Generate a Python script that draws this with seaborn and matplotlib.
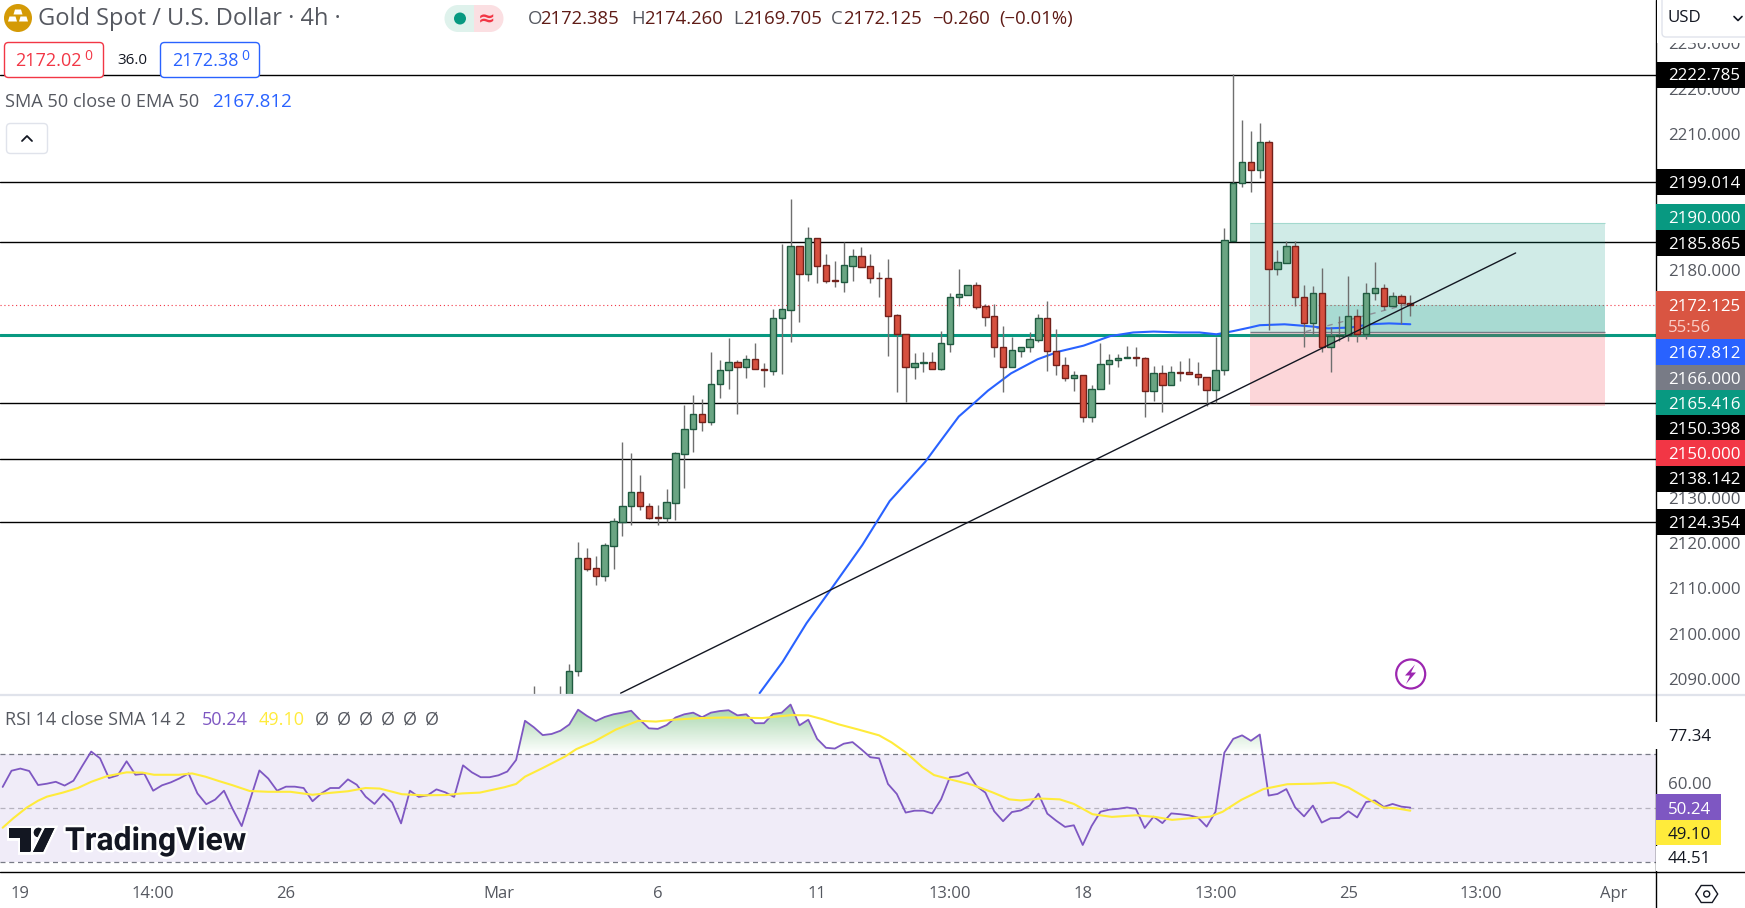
import numpy as np
import matplotlib
matplotlib.use("Agg")
import matplotlib.pyplot as plt
import matplotlib.patheffects as pe
from matplotlib.patches import Circle, FancyBboxPatch, Polygon, Rectangle
from matplotlib.path import Path
from matplotlib.transforms import ScaledTranslation
import pandas as pd
import seaborn as sns

# 4h candles, bar numbers 60..159 (older ones sit below the visible price range)
open_prices = [
    2084, 2082, 2080, 2083, 2082, 2091.4, 2116.3, 2114.1, 2112.5, 2119.1,
    2124.3, 2127.7, 2130.8, 2127.9, 2125.3, 2125.2, 2128.5, 2139.3, 2144.7, 2148,
    2146.2, 2154.6, 2157.7, 2159.4, 2158.3, 2160.1, 2158, 2157.6, 2169.1, 2171,
    2185, 2178.9, 2186.7, 2180.8, 2177.5, 2177.2, 2180.7, 2182.8, 2180.6, 2178.1,
    2177.9, 2169.8, 2165.7, 2158.3, 2159.3, 2159.4, 2158, 2163.5, 2173.7, 2174.3,
    2176.4, 2171.8, 2169.6, 2162.7, 2158.5, 2162, 2162.7, 2164.4, 2169.1, 2161.9,
    2158.8, 2155.9, 2156.6, 2147.3, 2153.5, 2159, 2159.9, 2160.4, 2160.5, 2160.3,
    2153.1, 2157, 2154.4, 2157.3, 2157.2, 2156.8, 2156.1, 2153.3, 2157.7, 2186.2,
    2199, 2203.5, 2201.7, 2207.9, 2179.9, 2181.4, 2185, 2173.7, 2168, 2174.6,
    2162.7, 2165.2, 2165.5, 2169.6, 2165.7, 2174.6, 2175.7, 2171.8, 2174, 2172.385,
]
close_prices = [
    2082, 2080, 2083, 2082, 2091.4, 2116.3, 2114, 2112.5, 2119.2, 2124.4,
    2127.7, 2130.8, 2127.9, 2125.2, 2125.2, 2128.6, 2139.4, 2144.7, 2148, 2146.2,
    2154.6, 2157.7, 2159.4, 2158.3, 2160.1, 2157.9, 2157.8, 2169.1, 2171.1, 2185,
    2178.9, 2186.7, 2180.7, 2177.4, 2177.3, 2180.8, 2182.8, 2180.5, 2178.1, 2177.9,
    2169.7, 2165.7, 2158.3, 2159.2, 2159.5, 2158, 2163.6, 2173.7, 2174.4, 2176.4,
    2171.7, 2169.5, 2162.7, 2158.5, 2162.1, 2162.7, 2164.5, 2169.1, 2161.9, 2158.8,
    2155.9, 2156.6, 2147.3, 2153.5, 2159, 2159.9, 2160.3, 2160.6, 2160.4, 2153.1,
    2157, 2154.4, 2157.4, 2157.1, 2156.8, 2156.1, 2153.3, 2157.7, 2186.3, 2199,
    2203.5, 2201.7, 2207.9, 2179.9, 2181.5, 2185, 2173.7, 2168, 2174.6, 2162.7,
    2165.2, 2165.5, 2169.6, 2165.7, 2174.6, 2175.7, 2171.8, 2174, 2172.4, 2172.125,
]
high_prices = [
    2088.2, 2085, 2084, 2088.2, 2093, 2119.9, 2118.5, 2116.8, 2119.6, 2125.1,
    2141.9, 2139.5, 2134.6, 2128.4, 2128, 2131.5, 2139.7, 2150, 2152.2, 2151.3,
    2161.7, 2159.9, 2164.7, 2159.9, 2161, 2163.7, 2159.3, 2171.1, 2185.5, 2195.4,
    2185, 2189.2, 2186.9, 2183.3, 2181.7, 2185.9, 2184.4, 2184.8, 2183.3, 2179.3,
    2182.2, 2170, 2165.7, 2161.5, 2161.7, 2161.7, 2166.3, 2174.7, 2180, 2176.4,
    2177.1, 2172.2, 2172.2, 2167.4, 2165.1, 2162.7, 2166, 2170, 2173, 2166.8,
    2160.6, 2157.5, 2156.6, 2154.4, 2163.7, 2161.2, 2161.2, 2163, 2162.8, 2160.6,
    2158.6, 2158.8, 2158.6, 2159.7, 2160.4, 2159.5, 2156.1, 2165.1, 2188.9, 2222.8,
    2212.8, 2210.4, 2212.1, 2208.4, 2184.2, 2186.1, 2186.1, 2176.5, 2176.2, 2180.2,
    2167.3, 2169.6, 2178.4, 2171.2, 2177, 2181.5, 2176.6, 2174.9, 2174.4, 2174.26,
]
low_prices = [
    2079, 2078, 2077, 2080, 2081, 2090.4, 2113.4, 2110.4, 2111.3, 2114,
    2121.2, 2123.6, 2126.9, 2124.9, 2123.6, 2124.2, 2124.7, 2131.8, 2139.6, 2144.4,
    2145.7, 2151.6, 2153.5, 2148.1, 2156, 2157.9, 2154.1, 2156.7, 2156.9, 2163.9,
    2168.4, 2177.4, 2177, 2177, 2176.1, 2175, 2177.3, 2180.5, 2177, 2173.9,
    2160.9, 2152.8, 2150.7, 2155.8, 2157.4, 2158, 2157.7, 2161.6, 2171.9, 2174.3,
    2171.2, 2167.5, 2160.7, 2153, 2158.3, 2160.7, 2161.8, 2163.8, 2157.6, 2156.6,
    2155.4, 2153.1, 2146.2, 2146.2, 2153.5, 2154.7, 2158.3, 2160.4, 2158.7, 2147.3,
    2150.9, 2148.6, 2154.4, 2155.4, 2156.8, 2154.5, 2149.8, 2150.5, 2156.7, 2186.2,
    2198.1, 2197, 2200, 2166.6, 2178.7, 2181.2, 2171.9, 2162.7, 2165.7, 2161.8,
    2157.2, 2164.1, 2164.1, 2163.8, 2164.5, 2173.2, 2171, 2171.8, 2167.8, 2169.705,
]

# EMA 50
ema_bars = [85.5, 88.1, 90.8, 93.5, 97.1, 100.2, 104.2, 105.9, 108, 109.7, 111.3, 113.9,
            116.9, 119.3, 122.1, 125.1, 127.7, 130, 133, 135.2, 137.1, 139, 140.9, 142,
            144.8, 148, 149.7, 152.3, 154.4, 156.6, 159]
ema_values = [2086.6, 2093.5, 2102, 2109.3, 2119.2, 2128.9, 2137.5, 2142, 2147.5, 2150.4,
              2153.2, 2157, 2160.1, 2161.8, 2163.1, 2165.2, 2166, 2166.2, 2166, 2166,
              2165.6, 2166.3, 2167.1, 2167.6, 2167.8, 2167.3, 2166.9, 2167.1, 2167.8,
              2168, 2167.812]

# RSI 14, one value per bar 0..159
rsi_values = [
    57.9, 63.9, 64.7, 63.8, 58.6, 59.1, 59.8, 58.4, 60.2, 65.7,
    71.0, 68.5, 61.2, 62.2, 67.4, 62.4, 62.8, 56.5, 58.5, 59.6,
    61.1, 62.9, 55.5, 51.5, 53.2, 56.5, 49.6, 43.4, 53.7, 64.0,
    61.0, 56.5, 58.0, 58.0, 57.5, 52.6, 55.5, 57.5, 57.5, 60.7,
    58.7, 54.3, 51.6, 55.4, 52.1, 44.4, 56.5, 54.2, 54.8, 57.0,
    55.9, 54.2, 65.9, 63.3, 61.5, 61.5, 62.2, 63.6, 67.9, 82.4,
    80.0, 77.1, 77.5, 78.7, 81.0, 86.5, 84.2, 82.3, 83.8, 84.8,
    85.4, 86.1, 82.7, 79.6, 79.4, 80.8, 83.6, 84.8, 85.4, 83.7,
    85.4, 86.0, 86.3, 84.4, 84.8, 81.5, 81.5, 84.9, 85.4, 88.4,
    80.7, 82.8, 75.7, 72.4, 72.1, 73.9, 74.5, 71.8, 68.9, 68.5,
    59.0, 55.3, 48.4, 49.1, 49.1, 48.1, 53.3, 61.5, 61.9, 63.3,
    58.2, 55.8, 48.9, 45.2, 48.6, 49.2, 51.0, 55.4, 48.0, 45.4,
    43.1, 43.7, 36.4, 43.4, 48.7, 49.5, 49.8, 50.3, 49.8, 42.7,
    46.9, 44.5, 48.1, 47.8, 47.4, 46.6, 43.2, 48.7, 70.6, 75.7,
    77.0, 75.0, 77.3, 54.7, 55.3, 57.1, 50.3, 47.0, 51.0, 44.7,
    46.3, 46.4, 48.9, 46.6, 52.3, 52.9, 50.5, 51.6, 50.6, 50.24,
]

# RSI-based SMA, read at the bends of the yellow line
rsi_ma_bars = [0, 1.2, 2.7, 4, 5, 6.8, 8.5, 10, 11.8, 14, 15.8, 17.1, 19.9, 21.4, 22.9, 24.4,
               25.9, 27.9, 30, 32.5, 35, 37, 39, 41, 42.6, 45.1, 47.6, 50.1, 51.9, 53.9,
               56.7, 58, 59, 61, 63.5, 64.8, 66.8, 69.3, 71.8, 73.8, 75.8, 78.8, 81.5,
               85.8, 89.1, 91, 92.6, 94.4, 96.6, 99, 100.4, 102, 103.9, 105.2, 106.9,
               109.6, 111.8, 113.7, 115, 117.2, 119.4, 121, 123.1, 125.3, 128, 130.2,
               132.1, 134.5, 136.4, 137.8, 139.9, 142.4, 145.1, 148, 150.4, 152, 153.7,
               155.9, 157.4, 159]
rsi_ma_values = [42.8, 46.3, 50.2, 52.8, 54.3, 55.8, 57.5, 59.8, 61.9, 63.3, 63.2, 62.4, 62.4,
                 62.9, 61.7, 60.1, 58.6, 56.4, 56.1, 56.1, 55.0, 55.7, 56.3, 57.5, 57.3,
                 55.2, 54.8, 54.9, 55.5, 55.8, 57.8, 59.0, 61.7, 64.9, 69.1, 71.9, 74.7,
                 79.2, 82.4, 82.1, 82.8, 83.4, 83.6, 83.4, 84.5, 84.4, 83.0, 81.1, 79.2,
                 77.0, 74.4, 70.7, 65.2, 62.3, 60.8, 58.6, 55.9, 53.3, 52.9, 53.6, 53.3,
                 51.6, 47.8, 46.8, 47.4, 46.8, 45.7, 46.4, 46.9, 48.7, 53.1, 57.1, 58.9,
                 59.1, 59.5, 57.7, 54.5, 50.3, 50.0, 49.1]

# drawn levels and tools
level_prices = [2222.785, 2199.014, 2185.865, 2150.398, 2138.142, 2124.354]
teal_level = 2165.416
last_close = 2172.125
trend_bars = [69.8, 170.9]
trend_prices = [2086.6, 2183.5]
position_bars = [140.9, 181.0]
position_open_bar = 149.3
position_target = 2190.0
position_entry = 2166.0
position_stop = 2149.9
open_pnl_bars = [147.2, 159]
open_pnl_prices = [2166.2, 2172.4]

# axis labels (the round prices behind the coloured price tags are left out)
price_ticks = [2090, 2100, 2110, 2120, 2130, 2180, 2210, 2220, 2230]
time_tick_bars = [2, 17, 32, 56, 74, 92, 107, 122, 137, 152, 167, 182]
time_tick_labels = ["19", "14:00", "26", "Mar", "6", "11", "13:00", "18", "13:00", "25", "13:00", "Apr"]

W, H = 1745, 908
PANE_R = 1656
PX_PER_BAR = 8.853
PX_PER_USD = 4.543
TEXT_GREY = "#555860"
FONT = ["Open Sans", "DejaVu Sans"]

sns.set_theme(style="white")
plt.rcParams["font.family"] = FONT
plt.rcParams["axes.unicode_minus"] = False

fig = plt.figure(figsize=(W / 100, H / 100), dpi=100, facecolor="white")
xlim = (-0.3, PANE_R / PX_PER_BAR - 0.3)
nudge_down = ScaledTranslation(0, -1.5 / 100, fig.dpi_scale_trans)

# price pane
ax = fig.add_axes([0, (H - 695) / H, PANE_R / W, 695 / H])
ax.set_xlim(*xlim)
ax.set_ylim(2222.785 - (695 - 74.5) / PX_PER_USD, 2222.785 + 74.5 / PX_PER_USD)

for level in level_prices:
    ax.axhline(level, color="black", lw=1.0, zorder=1)
ax.axhline(teal_level, color="#089981", lw=2.2, zorder=1)
ax.axhline(last_close, color="#f23645", lw=0.8, ls=(0, (1, 2.5)), zorder=2)

ax.fill_between(position_bars, position_entry, position_target, color="#089981", alpha=0.19, lw=0, zorder=2)
ax.fill_between(position_bars, position_stop, position_entry, color="#f23645", alpha=0.2, lw=0, zorder=2)
ax.fill_between([position_open_bar, position_bars[1]], position_entry, last_close,
                color="#089981", alpha=0.2, lw=0, zorder=2)
ax.hlines(teal_level, *position_bars, color="#36856f", lw=2.2, zorder=3)
ax.hlines(position_entry, *position_bars, color="#787b86", lw=1.0, zorder=3)
ax.hlines(position_target, *position_bars, color="#a3d9ce", lw=0.8, zorder=3)
ax.plot(open_pnl_bars, open_pnl_prices, color="#8d8f97", lw=1.0, ls=(0, (4, 4)), zorder=3)

sns.lineplot(x=ema_bars, y=ema_values, ax=ax, color="#2962ff", lw=1.5, estimator=None,
             sort=False, legend=False, zorder=3.5)

candles = pd.DataFrame({"bar": np.arange(60, 160), "open": open_prices, "high": high_prices,
                        "low": low_prices, "close": close_prices})
candles["up"] = candles["close"] >= candles["open"]
ax.vlines(candles["bar"], candles["low"], candles["high"], color="#6f6f6f", lw=1.0, zorder=4)
body_bottom = candles[["open", "close"]].min(axis=1)
body_height = (candles["open"] - candles["close"]).abs()
ax.bar(candles["bar"], body_height, bottom=body_bottom, width=0.72,
       color=np.where(candles["up"], "#6aa583", "#d6503f"),
       edgecolor=np.where(candles["up"], "#1f5a40", "#74201a"), linewidth=1.0, zorder=5)

sns.lineplot(x=trend_bars, y=trend_prices, ax=ax, color="#131722", lw=1.0, estimator=None,
             sort=False, legend=False, zorder=6)

ax.set_xticks([])
ax.yaxis.tick_right()
ax.set_yticks(price_ticks)
ax.set_yticklabels([f"{t}.000" for t in price_ticks], fontsize=12.2, color=TEXT_GREY)
ax.tick_params(axis="y", length=0, pad=8.5)
for lab in ax.get_yticklabels():
    lab.set_transform(lab.get_transform() + nudge_down)
ax.set_xlabel("")
ax.set_ylabel("")
for s in ax.spines.values():
    s.set_visible(False)

# RSI pane
rax = fig.add_axes([0, (H - 872) / H, PANE_R / W, 175 / H])
rax.set_xlim(*xlim)
rax.set_ylim(26.4, 91.2)
rsi_bars = np.arange(len(rsi_values))
rsi_arr = np.array(rsi_values)
rax.axhspan(30, 70, color="#f0ecf8", lw=0, zorder=1)
rax.axhline(70, color="#787b86", lw=0.9, ls=(0, (4, 3)), zorder=2)
rax.axhline(30, color="#787b86", lw=0.9, ls=(0, (4, 3)), zorder=2)
rax.axhline(50, color="#b6b3bf", lw=0.9, ls=(0, (4, 3)), zorder=2)

# overbought area fades out towards the 70 line
above = rax.fill_between(rsi_bars, rsi_arr, 70, where=rsi_arr >= 70, interpolate=True,
                         facecolor="none", lw=0)
fade = np.zeros((64, 1, 4))
fade[..., :3] = matplotlib.colors.to_rgb("#43a84e")
fade[:, 0, 3] = np.linspace(0.52, 0.0, 64)
im = rax.imshow(fade, extent=[xlim[0], xlim[1], 70, 89], aspect="auto", zorder=2.5)
im.set_clip_path(Path.make_compound_path(*above.get_paths()), transform=rax.transData)
rax.set_xlim(*xlim)
rax.set_ylim(26.4, 91.2)

sns.lineplot(x=rsi_bars, y=rsi_arr, ax=rax, color="#7e57c2", lw=1.3, estimator=None,
             legend=False, zorder=3)
sns.lineplot(x=rsi_ma_bars, y=rsi_ma_values, ax=rax, color="#ffeb3b", lw=1.5, estimator=None,
             legend=False, zorder=4)
rax.set_xticks([])
rax.yaxis.tick_right()
rax.set_yticks([60, 80])
rax.set_yticklabels(["60.00", "80.00"], fontsize=12.2, color=TEXT_GREY)
rax.tick_params(axis="y", length=0, pad=8.5)
for lab in rax.get_yticklabels():
    lab.set_transform(lab.get_transform() + nudge_down)
rax.set_xlabel("")
rax.set_ylabel("")
for s in rax.spines.values():
    s.set_visible(False)

# time axis strip
tax = fig.add_axes([0, 0, PANE_R / W, (H - 872) / H])
tax.set_xlim(*xlim)
tax.set_ylim(0, 1)
tax.set_yticks([])
tax.set_xticks(time_tick_bars)
tax.set_xticklabels(time_tick_labels, fontsize=12, color=TEXT_GREY)
tax.tick_params(axis="x", length=0, pad=-15.5)
for s in tax.spines.values():
    s.set_visible(False)

# overlay in pixels for the TradingView chrome
ui = fig.add_axes([0, 0, 1, 1], zorder=10)
ui.set_xlim(0, W)
ui.set_ylim(H, 0)
ui.axis("off")
ui.patch.set_alpha(0)


def txt(x, y, s, color=TEXT_GREY, size=12.2, ha="left", **kw):
    # Open Sans sits a little high when centred
    return ui.text(x, y + 2, s, color=color, fontsize=size, ha=ha, va="center", **kw)


def box(x0, y0, x1, y1, color):
    ui.add_patch(Rectangle((x0, y0), x1 - x0, y1 - y0, fc=color, ec="none", zorder=2))


def rounded(x0, y0, x1, y1, fc, ec, lw=1.0, r=4):
    ui.add_patch(FancyBboxPatch((x0 + r, y0 + r), x1 - x0 - 2 * r, y1 - y0 - 2 * r,
                                boxstyle=f"round,pad={r},rounding_size={r}",
                                fc=fc, ec=ec, lw=lw, zorder=2))


# pane frame
ui.plot([0, W], [695, 695], color="#e0e3eb", lw=1.6, zorder=1)
ui.plot([0, W], [872, 872], color="black", lw=1.0, zorder=1)
ui.plot([PANE_R, PANE_R], [0, H], color="black", lw=1.0, zorder=1)

# price scale labels
price_labels = [
    ("2222.785", 74.5, "black", "white"), ("2199.014", 182.3, "black", "white"),
    ("2190.000", 216.7, "#089981", "white"), ("2185.865", 242.7, "black", "white"),
    ("2167.812", 352.3, "#2962ff", "white"), ("2166.000", 378, "#787b86", "white"),
    ("2165.416", 403.3, "#089981", "white"), ("2150.398", 428, "black", "white"),
    ("2150.000", 453, "#f23645", "white"), ("2138.142", 478.5, "black", "white"),
    ("2124.354", 522, "black", "white"),
]
for label, y, bg, fg in price_labels:
    box(PANE_R + 0.5, y - 13, W, y + 13, bg)
    txt(1668, y, label, color=fg, zorder=3)
box(PANE_R + 0.5, 291, W, 339.3, "#d95542")
txt(1668, 305, "2172.125", color="white", zorder=3)
txt(1668, 326, "55:56", color="#f9cfc8", zorder=3)

# RSI scale labels
box(PANE_R - 0.5, 722, W, 749, "white")
txt(1668, 735, "77.34", color="#131722", zorder=3)
box(PANE_R + 0.5, 794.3, 1721, 820, "#7e57c2")
txt(1668, 807.5, "50.24", color="white", zorder=3)
box(PANE_R + 0.5, 820, 1721, 845.3, "#ffeb3b")
txt(1668, 833, "49.10", color="#131722", zorder=3)
box(PANE_R + 0.5, 846, 1721, 871, "white")
txt(1668, 857, "44.51", color="#131722", zorder=3)

# currency button
box(PANE_R + 1, 0, W, 43, "white")
rounded(1662, -6, 1752, 37, "white", "#e0e3eb")
txt(1668, 16, "USD", color="#131722", zorder=3)
ui.plot([1734, 1738, 1742], [16.5, 20.5, 16.5], color="#131722", lw=1.2, zorder=3)

# gear
gx, gy = 1706.7, 894
ui.add_patch(Polygon([(gx - 11, gy), (gx - 5.5, gy - 8.5), (gx + 5.5, gy - 8.5), (gx + 11, gy),
                      (gx + 5.5, gy + 8.5), (gx - 5.5, gy + 8.5)], fc="none", ec="#131722", lw=1.0))
ui.add_patch(Circle((gx, gy), 3, fc="none", ec="#131722", lw=1.0))

# header
ui.add_patch(Circle((18, 18), 14, fc="#d49a06", ec="none"))
for bx, by in [(18, 12), (12.5, 19), (23.5, 19)]:
    ui.add_patch(Polygon([(bx - 3, by - 2.5), (bx + 3, by - 2.5), (bx + 4.5, by + 2.5), (bx - 4.5, by + 2.5)],
                         fc="white", ec="none"))
txt(38, 17, "Gold Spot / U.S. Dollar · 4h ·", size=17)
ui.add_patch(Circle((458, 18.5), 13.5, fc="#dff2ec", ec="none"))
ui.add_patch(Circle((490, 18.5), 13.5, fc="#fbdfe2", ec="none"))
box(458, 5, 474, 32, "#dff2ec")
box(474, 5, 490, 32, "#fbdfe2")
ui.add_patch(Circle((460, 18.5), 6, fc="#089981", ec="none", zorder=3))
txt(487, 17, "≈", color="#f23645", size=15, ha="center", zorder=3, family=["DejaVu Sans"], weight="bold")

dark_red = "#5f1b16"
ohlc_parts = [(528, "O", TEXT_GREY), (540, "2172.385", dark_red), (631, "H", TEXT_GREY), (644, "2174.260", dark_red),
              (733, "L", TEXT_GREY), (743, "2169.705", dark_red), (831, "C", TEXT_GREY), (843, "2172.125", dark_red),
              (932, "−0.260", dark_red), (999, "(−0.01%)", dark_red)]
for px, s, c in ohlc_parts:
    txt(px, 17, s, color=c, size=13.3)

rounded(4.5, 42.5, 103.5, 77.5, "white", "#f23645")
txt(15.5, 59, "2172.02", color="#f23645", size=13)
txt(84, 55, "0", color="#f23645", size=10)
txt(132.5, 59, "36.0", color="#131722", size=11, ha="center")
rounded(160.5, 42.5, 259.5, 77.5, "white", "#2962ff")
txt(172, 59, "2172.38", color="#2962ff", size=13)
txt(241, 55, "0", color="#2962ff", size=10)

txt(5, 100, "SMA 50 close 0 EMA 50", size=13.1)
txt(212, 100, "2167.812", color="#2962ff", size=13.5)
rounded(6.5, 123.5, 47.5, 153.5, "white", "#e0e3eb")
ui.plot([22, 27, 32], [141, 136, 141], color="#131722", lw=1.3, zorder=3)

# RSI legend
txt(5, 718, "RSI 14 close SMA 14 2", size=13)
txt(202, 718, "50.24", color="#7e57c2", size=13)
txt(259, 718, "49.10", color="#ffeb3b", size=13)
for px in [322, 344, 366, 388, 410, 432]:
    txt(px, 718, "Ø", color=TEXT_GREY, ha="center", size=13)

# lightning badge
ui.add_patch(Circle((1410.7, 674), 14.5, fc="white", ec="#9c27b0", lw=1.6, zorder=3))
ui.add_patch(Polygon([(1415, 664.5), (1405, 675.5), (1410, 675.5), (1406, 684), (1416, 672.5), (1411, 672.5)],
                     fc="#9c27b0", ec="none", zorder=4))

# watermark
halo = [pe.withStroke(linewidth=3.5, foreground="white")]
logo = "#131722"
logo_shapes = [
    Polygon([(9, 828), (31, 828), (31, 852), (20, 852), (20, 838), (9, 838)], fc=logo, ec="none"),
    Circle((38.5, 832.5), 4.7, fc=logo, ec="none"),
    Polygon([(45, 828), (54.5, 828), (43, 852), (33, 852)], fc=logo, ec="none"),
]
for shape in logo_shapes:
    shape.set_path_effects(halo + [pe.Normal()])
    ui.add_patch(shape)
wordmark = txt(65, 839, "TradingView", color=logo, size=23, weight="bold", family=["Roboto", "DejaVu Sans"])
wordmark.set_path_effects(halo)

fig.savefig("out.png", dpi=100)
